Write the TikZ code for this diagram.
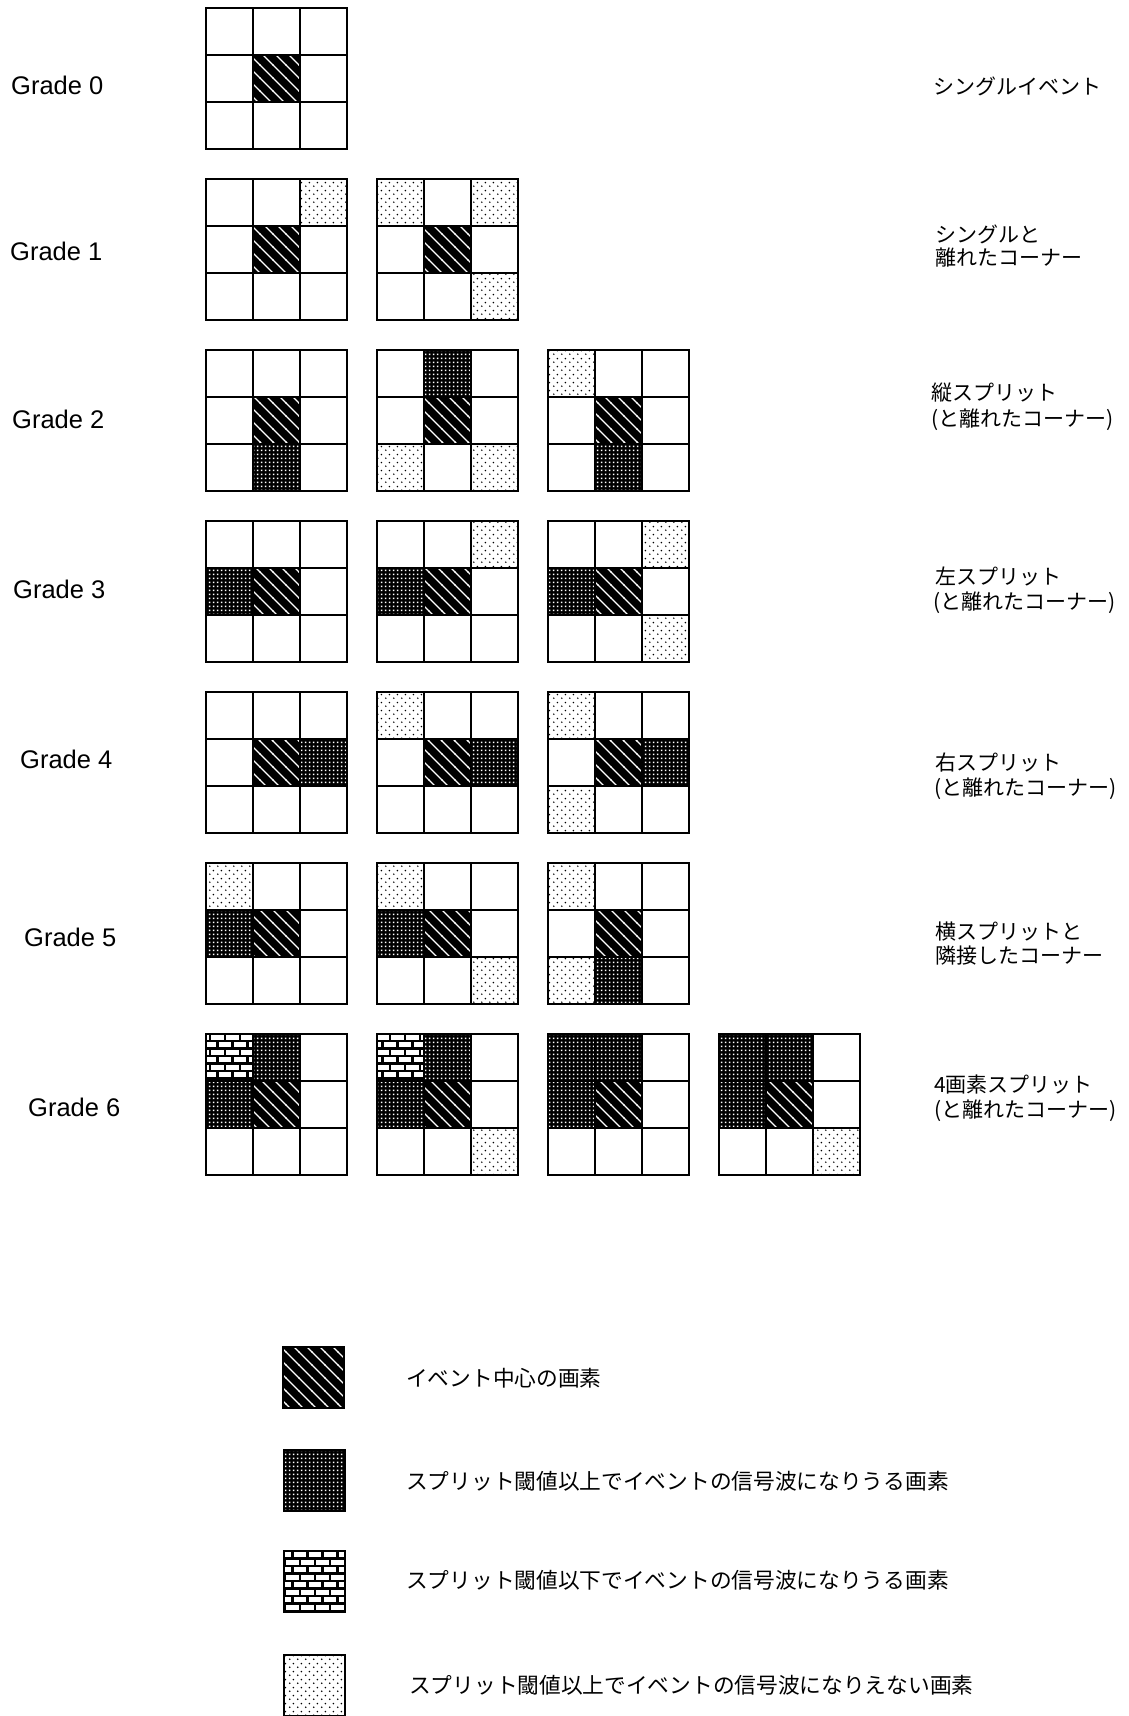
\documentclass[tikz,border=0pt]{standalone}
\usepackage{fontspec}
\setmainfont{Liberation Sans}
\newfontfamily\jpf{Noto Sans CJK JP}
\usetikzlibrary{patterns}

\pgfdeclarepatternformonly{evcenter}{\pgfqpoint{-1pt}{-1pt}}{\pgfqpoint{14pt}{14pt}}{\pgfqpoint{13pt}{13pt}}{%
  \pgfsetlinewidth{1.1pt}%
  \pgfpathmoveto{\pgfqpoint{-0.5pt}{13.5pt}}\pgfpathlineto{\pgfqpoint{13.5pt}{-0.5pt}}%
  \pgfusepath{stroke}}
\pgfdeclarepatternformonly{densedots}{\pgfqpoint{0pt}{0pt}}{\pgfqpoint{4pt}{4pt}}{\pgfqpoint{4pt}{4pt}}{%
  \pgfpathrectangle{\pgfqpoint{1pt}{1pt}}{\pgfqpoint{1.8pt}{1.8pt}}\pgfusepath{fill}}
\pgfdeclarepatternformonly{sparsedots}{\pgfqpoint{0pt}{0pt}}{\pgfqpoint{8pt}{8pt}}{\pgfqpoint{8pt}{8pt}}{%
  \pgfpathcircle{\pgfqpoint{2pt}{2pt}}{0.95pt}\pgfpathcircle{\pgfqpoint{6pt}{6pt}}{0.95pt}\pgfusepath{fill}}
\pgfdeclarepatternformonly{brickwall}{\pgfqpoint{-1.5pt}{-1.5pt}}{\pgfqpoint{16.5pt}{16.5pt}}{\pgfqpoint{15pt}{15pt}}{%
  \pgfsetlinewidth{2.2pt}%
  \pgfpathmoveto{\pgfqpoint{-1.5pt}{0pt}}\pgfpathlineto{\pgfqpoint{16.5pt}{0pt}}%
  \pgfpathmoveto{\pgfqpoint{-1.5pt}{7.5pt}}\pgfpathlineto{\pgfqpoint{16.5pt}{7.5pt}}%
  \pgfpathmoveto{\pgfqpoint{0pt}{0pt}}\pgfpathlineto{\pgfqpoint{0pt}{7.5pt}}%
  \pgfpathmoveto{\pgfqpoint{7.5pt}{7.5pt}}\pgfpathlineto{\pgfqpoint{7.5pt}{15pt}}%
  \pgfusepath{stroke}}

\tikzset{
  pcen/.style={fill=black, postaction={pattern=evcenter, pattern color=white}},
  pden/.style={fill=black, postaction={pattern=densedots, pattern color=white}},
  pbrk/.style={fill=white, postaction={pattern=brickwall, pattern color=black}},
  pspr/.style={fill=white, postaction={pattern=sparsedots, pattern color=black}},
  gl/.style={line width=1.8pt, line cap=rect},
  legbox/.style={line width=1.5pt},
  gradelbl/.style={anchor=west, inner sep=0pt, font=\fontsize{25.5}{25.5}\selectfont},
  jplbl/.style={anchor=base west, inner sep=0pt, font=\jpf\fontsize{21}{21}\selectfont},
  leglbl/.style={anchor=base west, inner sep=0pt, font=\jpf\fontsize{21.7}{21.7}\selectfont},
}

\newcommand{\pixgrid}[3]{%
  \foreach \i/\j/\s in {#3} {\path[\s] (#1+\j*47, #2+\i*47) rectangle ++(47,47);}
  \foreach \k in {0,1,2,3} {
    \draw[gl] (#1+\k*47, #2) -- ++(0,141);
    \draw[gl] (#1, #2+\k*47) -- ++(141,0);
  }
}

\begin{document}
\begin{tikzpicture}[x=1pt,y=-1pt]
\useasboundingbox[fill=white] (0,0) rectangle (1129,1716);

% grade labels
\node[gradelbl] (g0) at (11,85.5) {Grade 0};
\node[gradelbl] (g1) at (10,251) {Grade 1};
\node[gradelbl] (g2) at (12,419) {Grade 2};
\node[gradelbl] (g3) at (13,589) {Grade 3};
\node[gradelbl] (g4) at (20,759) {Grade 4};
\node[gradelbl] (g5) at (24,937) {Grade 5};
\node[gradelbl] (g6) at (28,1107) {Grade 6};

% grids
\pixgrid{206}{8}{1/1/pcen}
\pixgrid{206}{179}{0/2/pspr,1/1/pcen}
\pixgrid{377}{179}{0/0/pspr,0/2/pspr,1/1/pcen,2/2/pspr}
\pixgrid{206}{350}{1/1/pcen,2/1/pden}
\pixgrid{377}{350}{0/1/pden,1/1/pcen,2/0/pspr,2/2/pspr}
\pixgrid{548}{350}{0/0/pspr,1/1/pcen,2/1/pden}
\pixgrid{206}{521}{1/0/pden,1/1/pcen}
\pixgrid{377}{521}{0/2/pspr,1/0/pden,1/1/pcen}
\pixgrid{548}{521}{0/2/pspr,1/0/pden,1/1/pcen,2/2/pspr}
\pixgrid{206}{692}{1/1/pcen,1/2/pden}
\pixgrid{377}{692}{0/0/pspr,1/1/pcen,1/2/pden}
\pixgrid{548}{692}{0/0/pspr,1/1/pcen,1/2/pden,2/0/pspr}
\pixgrid{206}{863}{0/0/pspr,1/0/pden,1/1/pcen}
\pixgrid{377}{863}{0/0/pspr,1/0/pden,1/1/pcen,2/2/pspr}
\pixgrid{548}{863}{0/0/pspr,1/1/pcen,2/0/pspr,2/1/pden}
\pixgrid{206}{1034}{0/0/pbrk,0/1/pden,1/0/pden,1/1/pcen}
\pixgrid{377}{1034}{0/0/pbrk,0/1/pden,1/0/pden,1/1/pcen,2/2/pspr}
\pixgrid{548}{1034}{0/0/pden,0/1/pden,1/0/pden,1/1/pcen}
\pixgrid{719}{1034}{0/0/pden,0/1/pden,1/0/pden,1/1/pcen,2/2/pspr}

% right labels
\node[jplbl] (r0) at (933,94) {シングルイベント};
\node[jplbl] (r1a) at (935,242) {シングルと};
\node[jplbl] (r1b) at (935,265) {離れたコーナー};
\node[jplbl] (r2a) at (931,400) {縦スプリット};
\node[jplbl] (r2b) at (931,426) {(と離れたコーナー)};
\node[jplbl] (r3a) at (935,584) {左スプリット};
\node[jplbl] (r3b) at (933,609) {(と離れたコーナー)};
\node[jplbl] (r4a) at (935,770) {右スプリット};
\node[jplbl] (r4b) at (934,795) {(と離れたコーナー)};
\node[jplbl] (r5a) at (935,939) {横スプリットと};
\node[jplbl] (r5b) at (935,963) {隣接したコーナー};
\node[jplbl] (r6a) at (934,1092) {4画素スプリット};
\node[jplbl] (r6b) at (934,1117) {(と離れたコーナー)};

% legend
\path[pcen] (283,1347) rectangle ++(61,61);
\draw[legbox] (283,1347) rectangle ++(61,61);
\path[pden] (284,1450) rectangle ++(61,61);
\draw[legbox] (284,1450) rectangle ++(61,61);
\path[pbrk] (284,1551) rectangle ++(61,61);
\draw[legbox] (284,1551) rectangle ++(61,61);
\path[pspr] (284,1655) rectangle ++(61,61);
\draw[legbox] (284,1655) rectangle ++(61,61);

\node[leglbl] (l1) at (406,1386) {イベント中心の画素};
\node[leglbl] (l2) at (406,1489) {スプリット閾値以上でイベントの信号波になりうる画素};
\node[leglbl] (l3) at (406,1588) {スプリット閾値以下でイベントの信号波になりうる画素};
\node[leglbl] (l4) at (409,1693) {スプリット閾値以上でイベントの信号波になりえない画素};
\end{tikzpicture}
\end{document}
